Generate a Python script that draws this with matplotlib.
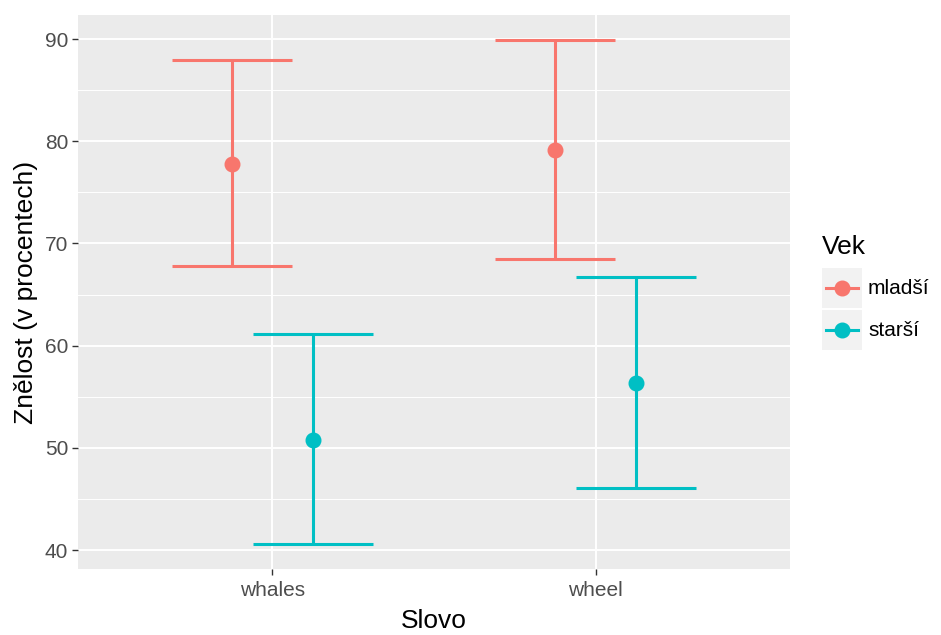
# Error bar chart: voicing (Znělost) by word and age group, ggplot look

import matplotlib.pyplot as plt
from matplotlib.patches import Rectangle
from matplotlib.lines import Line2D

plt.rcParams['font.family'] = ['Liberation Sans', 'DejaVu Sans']

# Data
words = ["whales", "wheel"]
groups = ["mladší", "starší"]
colors = ["#F8766D", "#00BFC4"]
means = {"mladší": [77.8, 79.15], "starší": [50.75, 56.3]}
lower = {"mladší": [67.75, 68.45], "starší": [40.6, 46.05]}
upper = {"mladší": [87.95, 89.9], "starší": [61.15, 66.7]}

dodge = 0.125
cap_half = 0.185

W, H = 941, 635
fig = plt.figure(figsize=(W / 100, H / 100), dpi=100)
ax = fig.add_axes([78 / W, (H - 569) / H, 712 / W, 554 / H])
ax.set_facecolor("#EBEBEB")

xs = list(range(1, len(words) + 1))
for gi, (g, col) in enumerate(zip(groups, colors)):
    off = -dodge if gi == 0 else dodge
    for x, m, lo, hi in zip(xs, means[g], lower[g], upper[g]):
        xc = x + off
        ax.plot([xc, xc], [lo, hi], color=col, lw=2.2, solid_capstyle="butt", zorder=3)
        ax.plot([xc - cap_half, xc + cap_half], [lo, lo], color=col, lw=2.2,
                solid_capstyle="butt", zorder=3)
        ax.plot([xc - cap_half, xc + cap_half], [hi, hi], color=col, lw=2.2,
                solid_capstyle="butt", zorder=3)
        ax.plot([xc], [m], "o", color=col, ms=10.5, zorder=4)

ax.set_xlim(0.4, 2.6)
ax.set_ylim(38.15, 92.35)
ax.set_xticks(xs)
ax.set_xticklabels(words)
ax.set_yticks([40, 50, 60, 70, 80, 90])
ax.set_yticks([45, 55, 65, 75, 85], minor=True)
ax.set_xticks([], minor=True)

ax.grid(True, which="major", color="white", lw=1.4)
ax.grid(True, which="minor", axis="y", color="white", lw=0.7)
ax.set_axisbelow(True)
for s in ax.spines.values():
    s.set_visible(False)
ax.tick_params(axis="both", which="major", length=4, width=1, color="#333333",
               labelcolor="#4D4D4D", labelsize=15, pad=3)
ax.tick_params(axis="x", which="major", pad=5)
ax.tick_params(axis="both", which="minor", length=0)

ax.set_xlabel("Slovo", fontsize=19, color="black", labelpad=6)
ax.set_ylabel("Znělost (v procentech)", fontsize=19, color="black", labelpad=5)

# legend drawn by hand, ggplot style
fig.text(822 / W, 1 - 247 / H, "Vek", fontsize=19, va="center", ha="left")
for i, (g, col) in enumerate(zip(groups, colors)):
    top = 268 + i * 42
    fig.patches.append(Rectangle((822 / W, 1 - (top + 40) / H), 40 / W, 40 / H,
                                 transform=fig.transFigure, facecolor="#F2F2F2",
                                 edgecolor="none"))
    yc = 1 - (top + 20) / H
    fig.lines.append(Line2D([826 / W, 858 / W], [yc, yc], transform=fig.transFigure,
                            color=col, lw=2.2))
    fig.lines.append(Line2D([842 / W], [yc], transform=fig.transFigure, marker="o",
                            color=col, ms=10.5))
    fig.text(868 / W, yc, g, fontsize=15, va="center", ha="left")

fig.savefig("out.png", dpi=100)
